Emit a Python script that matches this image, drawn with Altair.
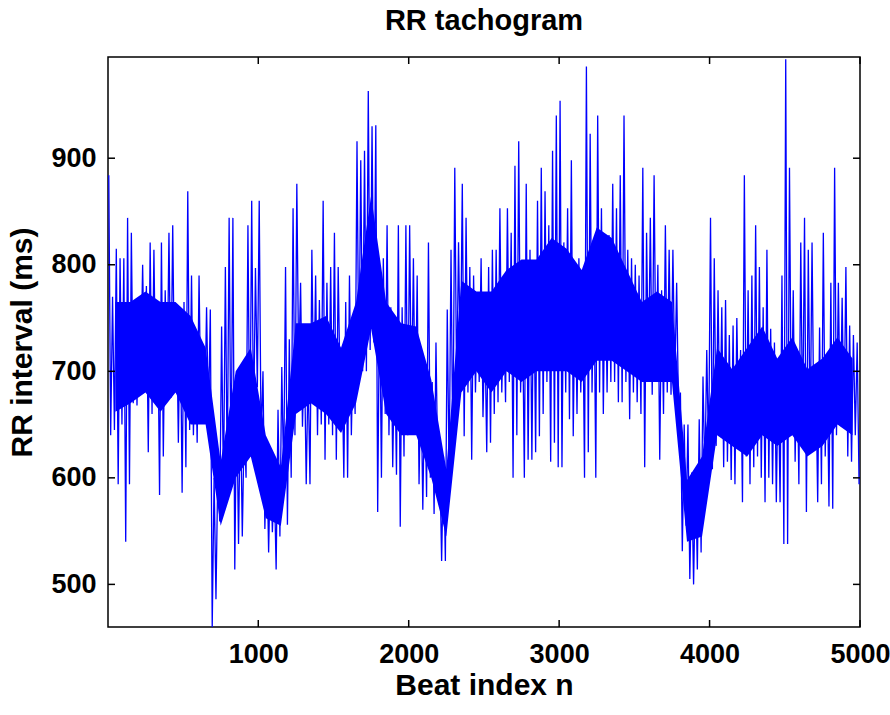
import altair as alt
import pandas as pd

# ---- data (RR intervals, ms) ----
bin_width = 25  # beats per bin for the spike envelope
spike_hi = [
    884, 770, 815, 806, 806, 844, 830, 760, 766, 800, 780, 821, 814, 760, 821, 776, 830, 837, 760, 758,
    765, 869, 790, 730, 790, 720, 760, 758, 600, 610, 742, 798, 844, 844, 680, 675, 650, 837, 860, 797,
    860, 700, 630, 620, 600, 664, 704, 798, 730, 853, 876, 783, 720, 700, 814, 790, 767, 860, 783, 798,
    830, 798, 711, 765, 790, 730, 916, 898, 907, 963, 930, 931, 776, 806, 837, 760, 720, 837, 760, 837,
    837, 806, 790, 700, 690, 821, 690, 727, 620, 620, 758, 814, 891, 821, 876, 844, 798, 790, 760, 806,
    740, 798, 814, 814, 853, 760, 853, 830, 893, 916, 760, 876, 814, 798, 860, 891, 869, 837, 907, 940,
    954, 821, 853, 898, 790, 806, 780, 986, 923, 800, 940, 853, 809, 828, 876, 853, 884, 940, 814, 806,
    800, 790, 891, 830, 844, 884, 800, 776, 837, 814, 814, 783, 680, 650, 650, 605, 605, 655, 695, 720,
    844, 806, 776, 760, 767, 734, 743, 750, 720, 884, 776, 790, 837, 798, 760, 814, 740, 727, 700, 790,
    993, 891, 776, 720, 821, 844, 814, 821, 700, 741, 830, 710, 783, 891, 783, 769, 798, 743, 734, 727,
]
spike_lo = [
    640, 645, 594, 650, 540, 594, 670, 668, 695, 690, 624, 660, 675, 584, 620, 680, 675, 680, 633, 586,
    610, 645, 640, 633, 655, 655, 655, 460, 486, 559, 585, 600, 600, 514, 538, 545, 600, 620, 647, 685,
    633, 552, 530, 549, 514, 545, 600, 556, 600, 640, 700, 648, 594, 594, 671, 640, 650, 617, 650, 640,
    617, 680, 600, 600, 640, 660, 695, 700, 700, 720, 727, 568, 600, 660, 640, 610, 603, 554, 620, 640,
    660, 648, 594, 570, 582, 600, 566, 600, 522, 522, 600, 617, 680, 700, 639, 680, 617, 680, 690, 657,
    624, 633, 660, 671, 680, 671, 690, 600, 640, 680, 600, 617, 617, 624, 639, 660, 690, 615, 633, 610,
    610, 680, 655, 639, 660, 680, 600, 624, 680, 600, 680, 660, 680, 690, 690, 671, 671, 690, 655, 680,
    671, 660, 610, 695, 678, 690, 617, 660, 680, 678, 690, 662, 531, 555, 505, 500, 514, 530, 600, 620,
    608, 630, 640, 610, 615, 598, 594, 640, 577, 620, 594, 610, 620, 600, 577, 600, 594, 577, 577, 538,
    538, 640, 615, 594, 640, 568, 640, 640, 577, 594, 620, 573, 571, 640, 650, 650, 620, 615, 640, 594,
]
core_step = 100  # beats per bin for the dense core band
core_lo = [
    662, 670, 680, 662, 680, 650, 650, 555, 600, 620,
    562, 555, 660, 670, 660, 642, 670, 740, 660, 640,
    640, 600, 545, 680, 700, 680, 700, 690, 700, 700,
    700, 690, 710, 710, 700, 690, 690, 690, 540, 545,
    640, 630, 620, 640, 630, 640, 620, 630, 650, 640,
]
core_hi = [
    765, 765, 775, 765, 765, 752, 722, 615, 700, 722,
    640, 610, 745, 745, 752, 722, 765, 865, 765, 745,
    742, 692, 608, 785, 775, 775, 795, 805, 805, 825,
    815, 795, 835, 825, 795, 765, 775, 765, 598, 620,
    722, 702, 722, 742, 712, 732, 702, 712, 732, 712,
]
x_ticks = [1000, 2000, 3000, 4000, 5000]
y_ticks = [500, 600, 700, 800, 900]
x_domain = [1, 5000]
y_domain = [460, 995]

# ---- tables (same field names in every layer so the axes merge) ----
rows = []
for k, (h, l) in enumerate(zip(spike_hi, spike_lo)):
    rows.append({"beat": k * bin_width + bin_width * 0.25, "rr": h})
    rows.append({"beat": k * bin_width + bin_width * 0.75, "rr": l})
line_df = pd.DataFrame(rows)
core_df = pd.DataFrame({
    "beat": [core_step * (i + 0.5) for i in range(len(core_lo))],
    "rr": core_lo,
    "hi": core_hi,
})
xt_df = pd.DataFrame({"beat": x_ticks})
yt_df = pd.DataFrame({"rr": y_ticks})

W, H = 752, 570
FONT = "Liberation Sans"
BLUE = "#0000ff"
TICK = 7

xscale = alt.Scale(domain=x_domain, nice=False, zero=False)
yscale = alt.Scale(domain=y_domain, nice=False, zero=False)

x_axis = alt.Axis(values=x_ticks, format="d", title="Beat index n", ticks=False, domain=False,
                  grid=False, labelFont=FONT, labelFontSize=27, labelFontWeight="bold",
                  labelColor="black", labelPadding=14, titleFont=FONT, titleFontSize=30,
                  titleFontWeight="bold", titleColor="black", titlePadding=3, labelFlush=False)
y_axis = alt.Axis(values=y_ticks, format="d", title="RR interval (ms)", ticks=False, domain=False,
                  grid=False, labelFont=FONT, labelFontSize=27, labelFontWeight="bold",
                  labelColor="black", labelPadding=12, titleFont=FONT, titleFontSize=30,
                  titleFontWeight="bold", titleColor="black", titlePadding=13)

X = alt.X("beat:Q", scale=xscale, axis=x_axis, title="Beat index n")
Y = alt.Y("rr:Q", scale=yscale, axis=y_axis, title="RR interval (ms)")

core = alt.Chart(core_df).mark_area(color=BLUE, opacity=1, clip=True).encode(x=X, y=Y, y2="hi:Q")
line = alt.Chart(line_df).mark_line(color=BLUE, strokeWidth=1.3, clip=True).encode(x=X, y=Y)
tick_style = dict(color="black", strokeWidth=1.5)
xt_bottom = alt.Chart(xt_df).mark_rule(**tick_style).encode(
    x=X, y=alt.value(H), y2=alt.value(H - TICK))
xt_top = alt.Chart(xt_df).mark_rule(**tick_style).encode(
    x=X, y=alt.value(0), y2=alt.value(TICK))
yt_left = alt.Chart(yt_df).mark_rule(**tick_style).encode(
    y=Y, x=alt.value(0), x2=alt.value(TICK))
yt_right = alt.Chart(yt_df).mark_rule(**tick_style).encode(
    y=Y, x=alt.value(W), x2=alt.value(W - TICK))

chart = alt.layer(core, line, xt_bottom, xt_top, yt_left, yt_right).properties(
    width=W, height=H,
    title=alt.TitleParams("RR tachogram", font=FONT, fontSize=29, fontWeight="bold",
                          color="black", anchor="middle", offset=20),
    autosize=alt.AutoSizeParams(type="none"),
    padding={"left": 108, "top": 57, "right": 30, "bottom": 88},
).configure(background="white").configure_view(stroke="black", strokeWidth=1.5)

chart.save("out.html", embed_options={"renderer": "svg", "actions": False})
